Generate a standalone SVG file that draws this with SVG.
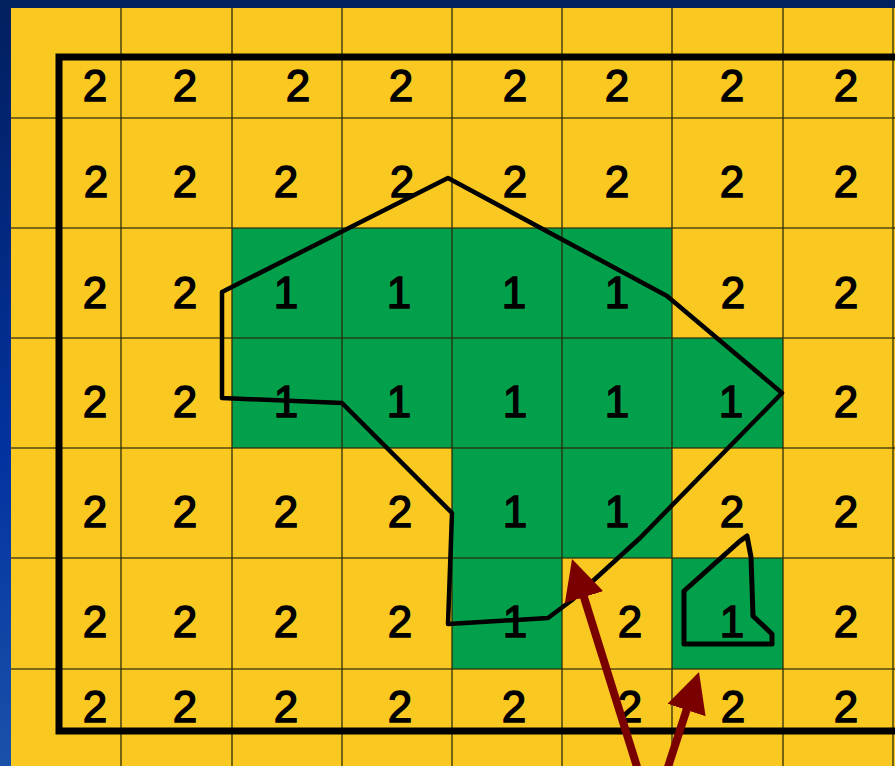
<svg xmlns="http://www.w3.org/2000/svg" width="895" height="766" viewBox="0 0 895 766">
<defs>
<linearGradient id="bg" x1="0" y1="0" x2="0" y2="1">
<stop offset="0" stop-color="#021f5e"/>
<stop offset="0.6" stop-color="#0333a0"/>
<stop offset="1" stop-color="#1a52aa"/>
</linearGradient>
<marker id="ah" markerUnits="userSpaceOnUse" viewBox="0 0 40 40" refX="12" refY="20" markerWidth="40" markerHeight="40" orient="auto">
<path d="M0,0 L40,20 L0,40 z" fill="#7a0000"/>
</marker>
<style>
.y{fill:#f9c922}
.g{fill:#02a04b}
.grid{stroke:#2a2a0a;stroke-width:1.6;stroke-opacity:0.8;fill:none}
.border{stroke:#000;stroke-width:7;fill:none}
.poly{stroke:#000;stroke-width:4.5;fill:none;stroke-linejoin:round}
.arrow{stroke:#7a0000;stroke-width:8;fill:none}
text{font-family:"Liberation Sans",Arial,sans-serif;font-size:44px;fill:#000;stroke:#000;stroke-width:1.4;text-anchor:middle}
</style>
</defs>
<rect x="0" y="0" width="895" height="766" fill="url(#bg)"/>
<rect x="0" y="0" width="895" height="8" fill="#021f5e"/>
<g id="cells">
<rect class="y" x="11" y="8" width="884" height="758"/>
<rect class="g" x="232" y="228" width="440" height="110"/>
<rect class="g" x="232" y="338" width="551" height="110"/>
<rect class="g" x="452" y="448" width="220" height="110"/>
<rect class="g" x="452" y="558" width="110" height="111"/>
<rect class="g" x="672" y="558" width="111" height="111"/>
</g>
<g id="grid" class="grid">
<path d="M121,8V766M232,8V766M342,8V766M452,8V766M562,8V766M672,8V766M783,8V766M893,8V766"/>
<path d="M11,118H895M11,228H895M11,338H895M11,448H895M11,558H895M11,669H895"/>
</g>
<g id="border">
<path class="border" d="M900,57H59V731H900"/>
</g>
<g id="numbers">
<text x="95" y="101">2</text><text x="185" y="101">2</text><text x="298" y="101">2</text><text x="401" y="101">2</text><text x="515" y="101">2</text><text x="617" y="101">2</text><text x="732" y="101">2</text><text x="846" y="101">2</text>
<text x="96" y="197">2</text><text x="185" y="197">2</text><text x="286" y="197">2</text><text x="402" y="197">2</text><text x="515" y="197">2</text><text x="617" y="197">2</text><text x="732" y="197">2</text><text x="846" y="197">2</text>
<text x="95" y="308">2</text><text x="185" y="308">2</text><text x="286" y="308">1</text><text x="399" y="308">1</text><text x="514" y="308">1</text><text x="617" y="308">1</text><text x="733" y="308">2</text><text x="846" y="308">2</text>
<text x="95" y="417">2</text><text x="185" y="417">2</text><text x="286" y="417">1</text><text x="399" y="417">1</text><text x="515" y="417">1</text><text x="617" y="417">1</text><text x="731" y="417">1</text><text x="846" y="417">2</text>
<text x="95" y="527">2</text><text x="185" y="527">2</text><text x="286" y="527">2</text><text x="400" y="527">2</text><text x="515" y="527">1</text><text x="617" y="527">1</text><text x="732" y="527">2</text><text x="846" y="527">2</text>
<text x="95" y="637">2</text><text x="185" y="637">2</text><text x="286" y="637">2</text><text x="400" y="637">2</text><text x="515" y="637">1</text><text x="630" y="637">2</text><text x="732" y="637">1</text><text x="846" y="637">2</text>
<text x="95" y="722">2</text><text x="185" y="722">2</text><text x="286" y="722">2</text><text x="400" y="722">2</text><text x="514" y="722">2</text><text x="630" y="722">2</text><text x="733" y="722">2</text><text x="846" y="722">2</text>
</g>
<g id="region-large">
<path class="poly" d="M448,178 L667,296 L782,393 L640,538 L572,600 L548,618 L448,624 L452,513 L342,403 L222,398 L222,292 Z"/>
</g>
<g id="region-small">
<path class="poly" style="stroke-width:5" d="M684,591 L740,541 L747,536 L751,557 L753,616 L772,634 L772,644 L684,644 Z"/>
</g>
<g id="connectors">
<line class="arrow" x1="638" y1="770" x2="580.4" y2="585.7" marker-end="url(#ah)"/>
<line class="arrow" x1="667" y1="770" x2="690.3" y2="698.6" marker-end="url(#ah)"/>
</g>
</svg>
